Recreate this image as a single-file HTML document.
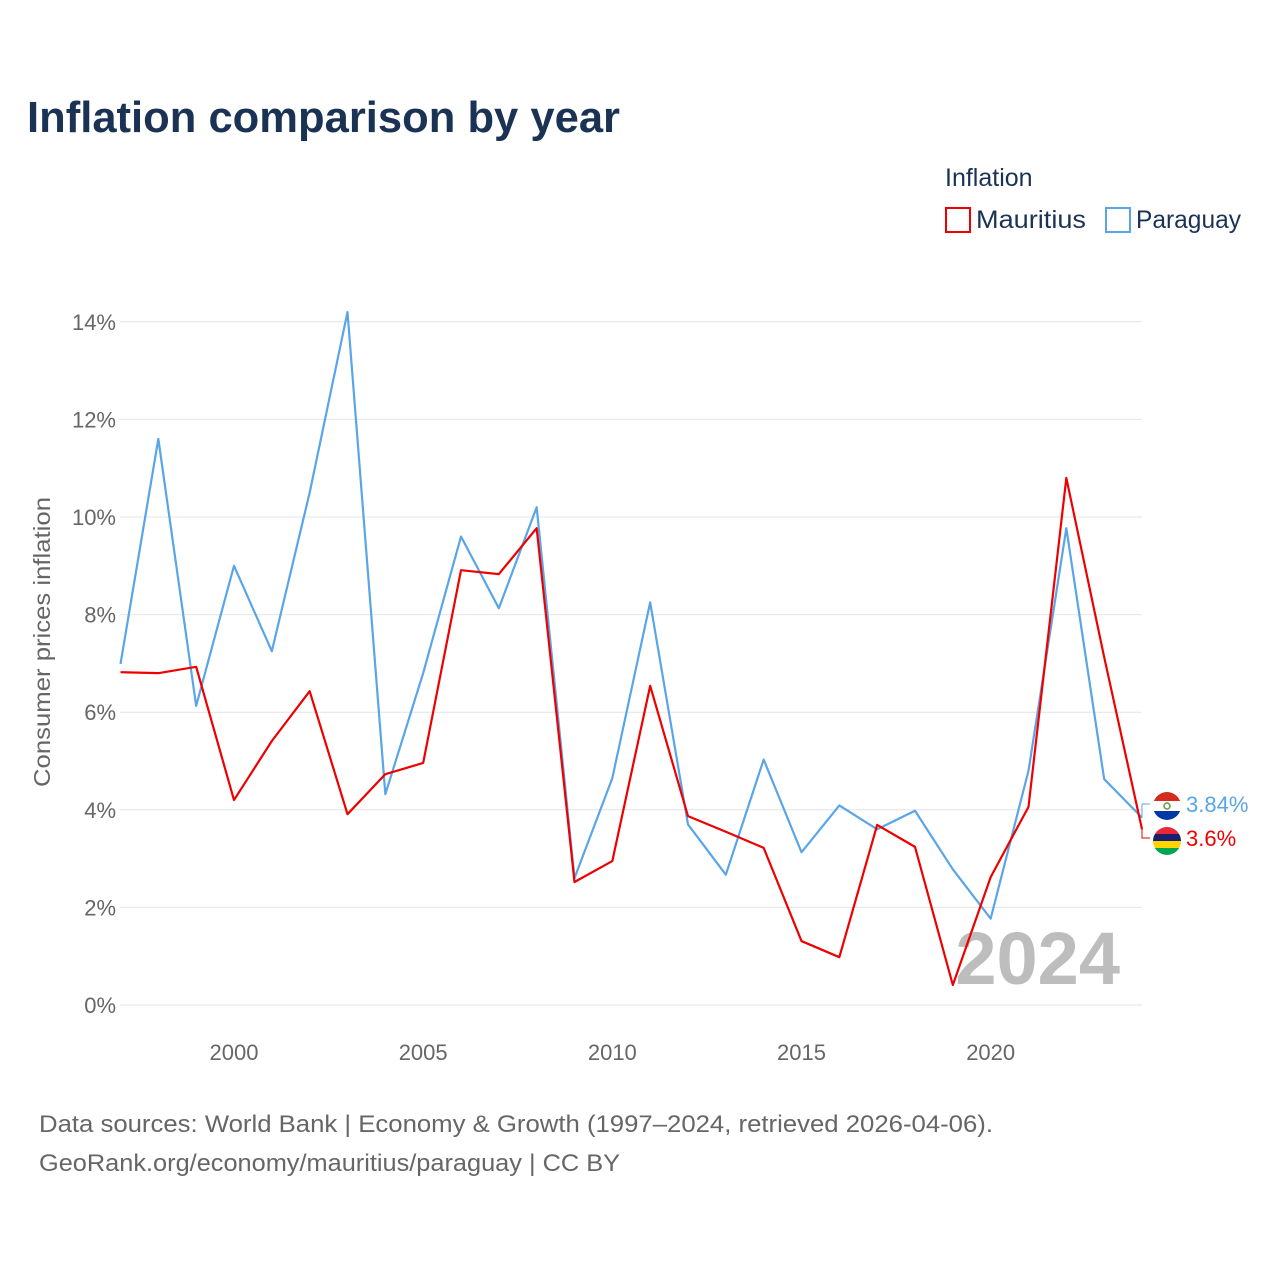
<!DOCTYPE html>
<html><head><meta charset="utf-8">
<style>
body{margin:0;background:#fff;font-family:"Liberation Sans",sans-serif;}
#wrap{position:relative;width:1280px;height:1280px;overflow:hidden;}
</style></head>
<body>
<div id="wrap">
<svg id="chart" width="1280" height="1280"></svg>
</div>
<script>
const years=[1997,1998,1999,2000,2001,2002,2003,2004,2005,2006,2007,2008,2009,2010,2011,2012,2013,2014,2015,2016,2017,2018,2019,2020,2021,2022,2023,2024];
const mauritius=[6.82,6.80,6.93,4.20,5.41,6.43,3.91,4.73,4.96,8.91,8.83,9.77,2.52,2.95,6.54,3.87,3.55,3.22,1.31,0.98,3.69,3.24,0.41,2.62,4.06,10.8,7.13,3.6];
const paraguay=[6.99,11.6,6.13,9.0,7.25,10.5,14.2,4.32,6.8,9.6,8.13,10.2,2.6,4.65,8.25,3.7,2.67,5.03,3.13,4.09,3.6,3.98,2.78,1.77,4.8,9.77,4.63,3.84];
const yTicks=[0,2,4,6,8,10,12,14];
const xTicks=[2000,2005,2010,2015,2020];
const NS='http://www.w3.org/2000/svg';
const svg=document.getElementById('chart');
const X=y=>120.5+(y-1997)*(1142-120.5)/27;
const Y=v=>1005-v*48.8;
function mk(t,a,p){const e=document.createElementNS(NS,t);for(const k in a)e.setAttribute(k,a[k]);(p||svg).appendChild(e);return e;}
function txt(s,a){const e=mk('text',a);e.textContent=s;return e;}
let t;
t=txt('Inflation comparison by year',{x:27,y:132,'font-size':44,'font-weight':'bold',fill:'#1a3354',textLength:593,lengthAdjust:'spacingAndGlyphs'});

t=txt('Inflation',{x:945,y:186,'font-size':25,fill:'#1a3354'});

const lg=[['Mauritius','#ee0000',946,110],['Paraguay','#5aa5e8',1106,105]];
lg.forEach(l=>{const g=mk('g',{});

mk('rect',{x:l[2],y:208,width:24,height:24,fill:'#fff',stroke:l[1],'stroke-width':2},g);
const tt=mk('text',{x:l[2]+30,y:228,'font-size':25,fill:'#1a3354',textLength:l[3],lengthAdjust:'spacingAndGlyphs'},g);tt.textContent=l[0];});
yTicks.forEach(v=>{const g=mk('line',{x1:120,x2:1142,y1:Y(v),y2:Y(v),stroke:'#e4e4e4','stroke-width':1});

const l=txt(v+'%',{x:116,y:Y(v)+8,'font-size':22,fill:'#666','text-anchor':'end'});
});
xTicks.forEach(v=>{const l=txt(v,{x:X(v),y:1060,'font-size':22,fill:'#666','text-anchor':'middle'});
});
t=txt('Consumer prices inflation',{x:0,y:0,'font-size':23,fill:'#666','text-anchor':'middle',textLength:290,lengthAdjust:'spacingAndGlyphs',transform:'translate(50,642) rotate(-90)'});

t=txt('2024',{x:1120,y:984,'font-size':74,'font-weight':'bold',fill:'#bdbdbd','text-anchor':'end'});

function line(data,c,n){const p=mk('polyline',{points:data.map((v,i)=>X(years[i])+','+Y(v)).join(' '),fill:'none',stroke:c,'stroke-width':2.2,'stroke-linejoin':'round'});
}
line(paraguay,'#5aa5e8','paraguay-line');
line(mauritius,'#ee0000','mauritius-line');
const pe=paraguay[27],me=mauritius[27];
mk('polyline',{points:`${X(2024)},${Y(pe)} 1142,804 1150,804`,fill:'none',stroke:'#5aa5e8','stroke-width':1});
mk('polyline',{points:`${X(2024)},${Y(me)} 1142,838 1150,838`,fill:'none',stroke:'#ee0000','stroke-width':1});
let fg=mk('g',{});
mk('clipPath',{id:'c1'},fg);mk('circle',{cx:1167,cy:806,r:14},document.getElementById('c1'));
const pg=mk('g',{'clip-path':'url(#c1)'},fg);
mk('rect',{x:1150,y:790,width:34,height:11,fill:'#d52b1e'},pg);
mk('rect',{x:1150,y:801,width:34,height:10,fill:'#fff'},pg);
mk('rect',{x:1150,y:811,width:34,height:11,fill:'#0038a8'},pg);
mk('circle',{cx:1167,cy:806,r:3,fill:'none',stroke:'#6a9a3a','stroke-width':1.5},pg);
fg=mk('g',{});
mk('clipPath',{id:'c2'},fg);mk('circle',{cx:1167,cy:841,r:14},document.getElementById('c2'));
const mg=mk('g',{'clip-path':'url(#c2)'},fg);
['#ea2839','#1a206d','#ffd500','#00a551'].forEach((c,i)=>mk('rect',{x:1150,y:827+i*7,width:34,height:7,fill:c},mg));
t=txt(pe+'%',{x:1186,y:812,'font-size':22,fill:'#5aa5e8'});
t=txt(me+'%',{x:1186,y:846,'font-size':22,fill:'#ee0000'});
t=txt('Data sources: World Bank | Economy & Growth (1997–2024, retrieved 2026-04-06).',{x:39,y:1132,'font-size':24,fill:'#666',textLength:954,lengthAdjust:'spacingAndGlyphs'});

t=txt('GeoRank.org/economy/mauritius/paraguay | CC BY',{x:39,y:1171,'font-size':24,fill:'#666',textLength:581,lengthAdjust:'spacingAndGlyphs'});

</script>
</body></html>
